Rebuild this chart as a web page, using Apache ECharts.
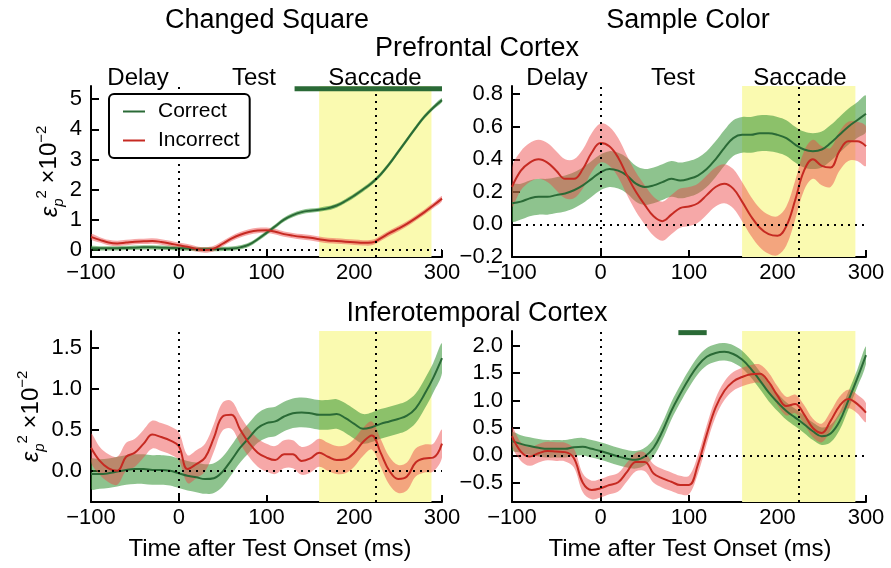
<!DOCTYPE html>
<html>
<head>
<meta charset="utf-8">
<script src="https://cdn.jsdelivr.net/npm/echarts@6/dist/echarts.min.js"></script>
<style>
  html, body { margin: 0; padding: 0; background: #fff; }
  #chart { width: 891px; height: 568px; }
</style>
</head>
<body>
<div id="chart"></div>
<script>
// Time after test onset (ms)
const time = [-100, -90, -80, -70, -60, -50, -40, -30, -20, -10,
  0, 10, 20, 30, 40, 50, 60, 70, 80, 90,
  100, 110, 120, 130, 140, 150, 160, 170, 180, 190,
  200, 210, 220, 230, 240, 250, 260, 270, 280, 290, 300];

// Prefrontal cortex, changed square
const pfcSquareCorrect = [0.05, 0.05, 0.05, 0.05, 0.06, 0.07, 0.08, 0.08, 0.07, 0.06,
  0.05, 0.04, 0.02, 0.02, 0.02, 0.03, 0.04, 0.08, 0.17, 0.35,
  0.56, 0.78, 1.0, 1.15, 1.25, 1.3, 1.33, 1.38, 1.47, 1.62,
  1.8, 2.0, 2.22, 2.5, 2.85, 3.25, 3.65, 4.05, 4.42, 4.72, 4.97];
const pfcSquareIncorrect = [0.43, 0.33, 0.24, 0.21, 0.24, 0.27, 0.28, 0.29, 0.26, 0.21,
  0.15, 0.1, 0.03, -0.01, 0.04, 0.2, 0.37, 0.5, 0.59, 0.64,
  0.65, 0.6, 0.52, 0.47, 0.43, 0.4, 0.35, 0.31, 0.29, 0.27,
  0.25, 0.23, 0.24, 0.38, 0.55, 0.7, 0.86, 1.05, 1.25, 1.47, 1.7];

// Prefrontal cortex, sample color
const pfcColorCorrect = [0.13, 0.14, 0.16, 0.17, 0.17, 0.18, 0.19, 0.21, 0.24, 0.28,
  0.32, 0.34, 0.33, 0.3, 0.25, 0.23, 0.24, 0.26, 0.28, 0.27,
  0.28, 0.3, 0.34, 0.4, 0.47, 0.53, 0.55, 0.55, 0.56, 0.56,
  0.55, 0.53, 0.49, 0.46, 0.45, 0.46, 0.5, 0.55, 0.6, 0.64, 0.68];
const pfcColorIncorrect = [0.23, 0.33, 0.38, 0.4, 0.38, 0.33, 0.28, 0.28, 0.34, 0.44,
  0.5, 0.48, 0.41, 0.3, 0.2, 0.12, 0.05, 0.02, 0.06, 0.1,
  0.11, 0.13, 0.18, 0.23, 0.25, 0.22, 0.14, 0.05, -0.02, -0.06,
  -0.07, -0.01, 0.15, 0.33, 0.4, 0.36, 0.35, 0.45, 0.51, 0.51, 0.48];

// Inferotemporal cortex, changed square
const itSquareCorrect = [-0.04, -0.04, -0.03, -0.01, 0.01, 0.02, 0.02, 0.01, 0.01, 0.0,
  -0.03, -0.06, -0.08, -0.1, -0.09, -0.01, 0.13, 0.28, 0.4, 0.52,
  0.58, 0.6, 0.66, 0.7, 0.71, 0.7, 0.68, 0.68, 0.69, 0.64,
  0.57, 0.51, 0.53, 0.57, 0.6, 0.63, 0.67, 0.76, 0.93, 1.13, 1.37];
const itSquareIncorrect = [0.28, 0.12, 0.03, 0.0, 0.17, 0.22, 0.33, 0.44, 0.41, 0.37,
  0.3, 0.02, 0.08, 0.16, 0.4, 0.66, 0.68, 0.5, 0.34, 0.22,
  0.16, 0.13, 0.2, 0.2, 0.12, 0.15, 0.22, 0.17, 0.13, 0.14,
  0.22, 0.35, 0.43, 0.22, 0.0, -0.1, -0.07, 0.1, 0.15, 0.16, 0.33];

// Inferotemporal cortex, sample color
const itColorCorrect = [0.26, 0.21, 0.17, 0.14, 0.12, 0.12, 0.12, 0.15, 0.16, 0.12,
  0.08, 0.03, -0.02, -0.06, -0.08, -0.02, 0.14, 0.44, 0.81, 1.12,
  1.4, 1.64, 1.8, 1.87, 1.89, 1.85, 1.75, 1.58, 1.37, 1.15,
  0.97, 0.81, 0.69, 0.57, 0.44, 0.35, 0.4, 0.62, 1.0, 1.4, 1.83];
const itColorIncorrect = [0.35, 0.07, -0.02, 0.04, 0.08, 0.07, 0.06, -0.05, -0.5, -0.63,
  -0.6, -0.54, -0.49, -0.3, -0.12, -0.12, -0.33, -0.42, -0.48, -0.54,
  -0.54, -0.17, 0.38, 0.87, 1.18, 1.35, 1.43, 1.48, 1.49, 1.34,
  1.09, 0.9, 0.94, 0.75, 0.5, 0.41, 0.63, 0.9, 1.03, 0.94, 0.78];

// Half-width of the error band around each curve: [correct, incorrect]
const bandPfcSquare = [0.07, 0.09];
const bandPfcColor = [0.11, 0.12];
const bandItSquare = [0.18, 0.17];
const bandItColor = [0.16, 0.17];

// Significant-difference intervals (ms)
const sigPfcSquare = [132, 300];
const sigItColor = [88, 120];

// Saccade window and mean saccade onset (ms)
const saccadeWindow = [160, 288];
const saccadeOnset = 224;

// Y tick values
const yTicksPfcSquare = [0, 1, 2, 3, 4, 5];
const yTicksPfcColor = [-0.2, 0, 0.2, 0.4, 0.6, 0.8];
const yTicksItSquare = [0, 0.5, 1.0, 1.5];
const yTicksItColor = [-0.5, 0, 0.5, 1.0, 1.5, 2.0];

const FONT = 'Liberation Sans, Arial, Helvetica, sans-serif';
const GREEN = '#2a6a36';
const RED = '#c62a22';
const GREEN_BAND = 'rgba(50,145,50,0.55)';
const RED_BAND = 'rgba(235,70,70,0.47)';
const YELLOW = '#fafab0';
const SIG = '#2a6a36';

const minus = s => String(s).replace('-', '\u2212');

const panels = [
  { grid: { left: 91, top: 86, width: 351, height: 171 }, ymin: -0.24, ymax: 5.44,
    ticks: yTicksPfcSquare, digits: 0, correct: pfcSquareCorrect, incorrect: pfcSquareIncorrect,
    band: bandPfcSquare, sig: sigPfcSquare, sigY: 5.35, yName: true },
  { grid: { left: 512, top: 86, width: 354, height: 171 }, ymin: -0.2, ymax: 0.85,
    ticks: yTicksPfcColor, digits: 1, correct: pfcColorCorrect, incorrect: pfcColorIncorrect,
    band: bandPfcColor, sig: null, yName: false },
  { grid: { left: 91, top: 331, width: 351, height: 171 }, ymin: -0.38, ymax: 1.7,
    ticks: yTicksItSquare, digits: 1, correct: itSquareCorrect, incorrect: itSquareIncorrect,
    band: bandItSquare, sig: null, yName: true },
  { grid: { left: 512, top: 331, width: 354, height: 171 }, ymin: -0.85, ymax: 2.27,
    ticks: yTicksItColor, digits: 1, correct: itColorCorrect, incorrect: itColorIncorrect,
    band: bandItColor, sig: sigItColor, sigY: 2.24, yName: false }
];

const axisLine = { show: true, onZero: false, lineStyle: { color: '#000', width: 2 } };
const labelStyle = { color: '#000', fontSize: 22, fontFamily: FONT };

const grids = [], xAxes = [], yAxes = [], series = [];

// Shaded error band: polygon through (t, v + h) and back through (t, v - h)
function bandSeries(i, values, half, color) {
  return {
    type: 'custom', xAxisIndex: i, yAxisIndex: i, silent: true, z: 2, clip: true,
    data: [[time[0], values[0]]],
    renderItem: (params, api) => {
      const upper = values.map((v, k) => api.coord([time[k], v + half]));
      const lower = values.map((v, k) => api.coord([time[k], v - half])).reverse();
      return {
        type: 'polygon',
        shape: { points: upper.concat(lower), smooth: 0.35 },
        style: { fill: color, stroke: null, lineWidth: 0 }
      };
    }
  };
}

panels.forEach((p, i) => {
  grids.push(Object.assign({ containLabel: false }, p.grid));
  xAxes.push({
    gridIndex: i, type: 'value', min: -100, max: 300, interval: 100,
    axisLine: axisLine,
    axisTick: { show: true, inside: true, length: 7, lineStyle: { color: '#000', width: 2 } },
    axisLabel: Object.assign({ margin: 5, formatter: v => minus(v) }, labelStyle),
    splitLine: { show: false }
  });
  const y = {
    gridIndex: i, type: 'value', min: p.ymin, max: p.ymax,
    axisLine: axisLine,
    axisTick: { show: true, inside: true, length: 8, customValues: p.ticks,
      lineStyle: { color: '#000', width: 2 } },
    axisLabel: Object.assign({ margin: 9, customValues: p.ticks,
      formatter: v => minus(Number(v).toFixed(p.digits)) }, labelStyle),
    splitLine: { show: false }
  };
  if (p.yName) {
    Object.assign(y, {
      name: '{e|\u03b5}{sb|p}{sp|2}{t| \u00d710}{sp|\u22122}',
      nameLocation: 'middle', nameRotate: 90, nameGap: 24,
      nameTextStyle: {
        color: '#000', fontFamily: FONT, fontSize: 24,
        rich: {
          e: { fontSize: 24, fontStyle: 'italic', fontFamily: FONT, lineHeight: 32, verticalAlign: 'middle' },
          sb: { fontSize: 15, fontStyle: 'italic', fontFamily: FONT, lineHeight: 32, verticalAlign: 'bottom' },
          sp: { fontSize: 15, fontFamily: FONT, lineHeight: 32, verticalAlign: 'top' },
          t: { fontSize: 24, fontFamily: FONT, lineHeight: 32, verticalAlign: 'middle' }
        }
      }
    });
  }
  yAxes.push(y);

  // saccade window shading
  series.push({
    type: 'line', xAxisIndex: i, yAxisIndex: i, data: [], silent: true, z: 1,
    markArea: { silent: true, itemStyle: { color: YELLOW },
      data: [[{ xAxis: saccadeWindow[0] }, { xAxis: saccadeWindow[1] }]] }
  });

  // error bands
  series.push(bandSeries(i, p.correct, p.band[0], GREEN_BAND));
  series.push(bandSeries(i, p.incorrect, p.band[1], RED_BAND));

  // reference lines: test onset, saccade onset, zero
  series.push({
    type: 'line', xAxisIndex: i, yAxisIndex: i, data: [], silent: true, z: 3,
    markLine: {
      silent: true, symbol: 'none', label: { show: false }, animation: false,
      lineStyle: { color: '#000', type: [2, 5], width: 2 },
      data: [{ xAxis: 0 }, { xAxis: saccadeOnset }, { yAxis: 0 }]
    }
  });

  // mean curves
  series.push({
    type: 'line', name: 'Correct', xAxisIndex: i, yAxisIndex: i,
    data: p.correct.map((v, k) => [time[k], v]),
    smooth: 0.4, symbol: 'none', z: 4,
    itemStyle: { color: GREEN }, lineStyle: { color: GREEN, width: 2 }
  });
  series.push({
    type: 'line', name: 'Incorrect', xAxisIndex: i, yAxisIndex: i,
    data: p.incorrect.map((v, k) => [time[k], v]),
    smooth: 0.4, symbol: 'none', z: 4,
    itemStyle: { color: RED }, lineStyle: { color: RED, width: 2 }
  });

  // significance bar
  if (p.sig) {
    series.push({
      type: 'line', xAxisIndex: i, yAxisIndex: i, silent: true, clip: false, z: 5,
      data: [[p.sig[0], p.sigY], [p.sig[1], p.sigY]],
      symbol: 'none', lineStyle: { color: SIG, width: 5 }
    });
  }
});

function txt(text, x, y, size) {
  return { type: 'text', x: x, y: y, silent: true,
    style: { text: text, fill: '#000', fontSize: size, fontFamily: FONT,
      align: 'center', verticalAlign: 'middle' } };
}

const graphic = [
  txt('Changed Square', 267, 21, 27),
  txt('Sample Color', 688, 21, 27),
  txt('Prefrontal Cortex', 477, 49, 27),
  txt('Inferotemporal Cortex', 477, 314, 27),
  txt('Delay', 138, 78, 24), txt('Test', 254, 78, 24), txt('Saccade', 375, 78, 24),
  txt('Delay', 557, 78, 24), txt('Test', 673, 78, 24), txt('Saccade', 800, 78, 24),
  txt('Time after Test Onset (ms)', 270, 549, 24),
  txt('Time after Test Onset (ms)', 690, 549, 24)
];

const chart = echarts.init(document.getElementById('chart'), null, { renderer: 'canvas' });
chart.setOption({
  animation: false,
  backgroundColor: '#fff',
  grid: grids,
  xAxis: xAxes,
  yAxis: yAxes,
  legend: {
    data: ['Correct', 'Incorrect'], orient: 'vertical', left: 109, top: 94, z: 10,
    backgroundColor: '#fff', borderColor: '#000', borderWidth: 2, borderRadius: 5,
    padding: [7, 10, 7, 14], itemGap: 8, itemWidth: 22, itemHeight: 2, icon: 'rect',
    selectedMode: false,
    textStyle: { color: '#000', fontSize: 21, fontFamily: FONT, padding: [0, 0, 0, 8] }
  },
  graphic: graphic,
  series: series
});
</script>
</body>
</html>
